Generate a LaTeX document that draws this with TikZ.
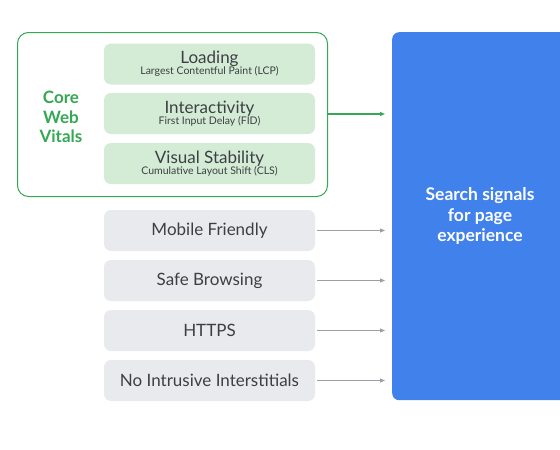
\documentclass[tikz,border=0pt]{standalone}
\usepackage{fontspec}
\setmainfont{Lato}
\usetikzlibrary{arrows.meta}
\definecolor{cwvgreen}{HTML}{34A853}
\definecolor{cwvfill}{HTML}{D4EBD6}
\definecolor{grayfill}{HTML}{E8EAED}
\definecolor{graytext}{HTML}{3C4043}
\definecolor{arrowgray}{HTML}{9AA0A6}
\definecolor{blueblock}{HTML}{4081EC}
\tikzset{
  vital/.style={fill=cwvfill, draw=none, rounded corners=7pt, minimum width=211pt, minimum height=41pt, inner sep=0pt, align=center, text=graytext},
  signal/.style={fill=grayfill, draw=none, rounded corners=7pt, minimum width=211pt, minimum height=41pt, inner sep=0pt, text=graytext, font=\fontsize{17}{19}\selectfont},
  grayarrow/.style={draw=arrowgray, line width=1pt, -{Triangle[length=5pt,width=4pt]}},
  greenarrow/.style={draw=cwvgreen, line width=1.2pt, -{Triangle[length=5pt,width=4pt]}}
}
\newcommand{\vtitle}[1]{{\fontsize{17}{18}\selectfont #1}}
\newcommand{\vsub}[1]{{\fontsize{10.5}{11}\selectfont #1}}
\begin{document}
\begin{tikzpicture}[x=1pt,y=-1pt]
\useasboundingbox (0,0) rectangle (560,450);
\fill[white] (0,0) rectangle (560,450);
% blue block
\node[fill=blueblock, rounded corners=7pt, minimum width=190pt, minimum height=368pt, inner sep=0pt, anchor=north west] (target) at (392,32) {};
\node[text=white, font=\bfseries\fontsize{17.5}{20.5}\selectfont, align=center] (targettext) at (480,216) {Search signals\\for page\\experience};
% core web vitals frame
\node[draw=cwvgreen, line width=1pt, rounded corners=11pt, minimum width=310pt, minimum height=164pt, inner sep=0pt, anchor=north west] (cwv) at (17,32) {};
\node[text=cwvgreen, font=\bfseries\fontsize{17}{19.5}\selectfont, align=center] (cwvlabel) at (61,117) {Core\\Web\\Vitals};
\node[vital] (loading) at (209.5,64) {\vtitle{Loading}\\[-1pt]\vsub{Largest Contentful Paint (LCP)}};
\node[vital] (inter) at (209.5,113.5) {\vtitle{Interactivity}\\[-1pt]\vsub{First Input Delay (FID)}};
\node[vital] (visual) at (209.5,163.5) {\vtitle{Visual Stability}\\[-1pt]\vsub{Cumulative Layout Shift (CLS)}};
% signals
\node[signal] (mobile) at (209.5,230.5) {Mobile Friendly};
\node[signal] (safe) at (209.5,280.5) {Safe Browsing};
\node[signal] (https) at (209.5,330.5) {HTTPS};
\node[signal] (noint) at (209.5,380.5) {No Intrusive Interstitials};
% arrows
\coordinate (tcwv) at (385,114);
\coordinate (tmob) at (385,230.5);
\coordinate (tsafe) at (385,280.5);
\coordinate (thttps) at (385,330.5);
\coordinate (tnoint) at (385,380.5);
\draw[greenarrow] (cwv.east |- tcwv) -- (tcwv);
\draw[grayarrow] ([xshift=2pt]mobile.east) -- (tmob);
\draw[grayarrow] ([xshift=2pt]safe.east) -- (tsafe);
\draw[grayarrow] ([xshift=2pt]https.east) -- (thttps);
\draw[grayarrow] ([xshift=2pt]noint.east) -- (tnoint);
\end{tikzpicture}
\end{document}
